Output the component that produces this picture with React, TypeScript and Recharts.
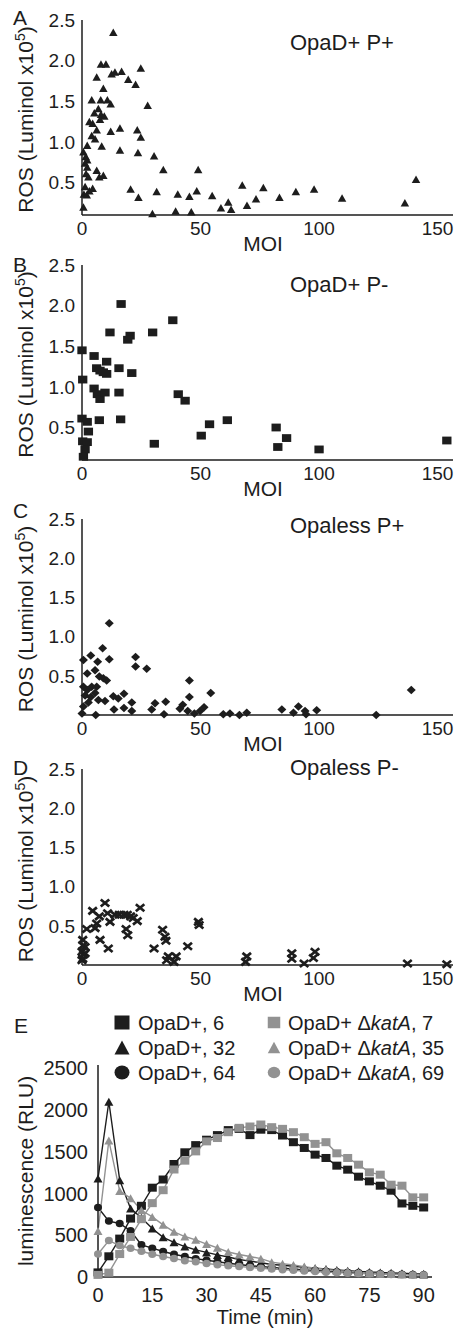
import React from "react";
import { ScatterChart, Scatter, LineChart, Line, XAxis, YAxis } from "recharts";

const FONT = "'Liberation Sans', Arial, Helvetica, sans-serif";
const BLACK = "#1d1d1d";
const GREY = "#929292";

// A: OpaD+ P+
const A_MOI = [13.2, 8.0, 10.1, 6.2, 12.5, 13.9, 16.7, 24.8, 19.5, 22.6, 9.0, 4.1, 7.9, 10.7, 12.1, 27.7, 6.9, 5.2, 8.0, 9.4, 3.1, 4.5, 7.6, 6.2, 12.1, 16.0, 23.3, 24.8, 4.1, 5.5, 2.2, 8.3, 16.0, 23.6, 30.4, 0.6, 1.6, 2.2, 1.3, 2.2, 1.7, 2.7, 6.2, 7.3, 9.0, 34.3, 49.0, 1.3, 3.1, 4.5, 0.8, 2.0, 20.5, 23.8, 31.5, 40.4, 45.3, 48.4, 54.9, 58.6, 61.7, 0.6, 29.7, 39.5, 46.1, 62.9, 67.6, 69.6, 73.4, 76.5, 83.3, 90.2, 97.9, 109.7, 136.2, 140.9];
const A_ROS = [2.35, 1.96, 1.96, 1.80, 1.84, 1.86, 1.87, 1.91, 1.77, 1.71, 1.66, 1.52, 1.52, 1.52, 1.47, 1.45, 1.41, 1.36, 1.34, 1.32, 1.25, 1.23, 1.28, 1.15, 1.13, 1.17, 1.15, 1.06, 1.08, 1.04, 0.96, 0.95, 0.90, 0.87, 0.83, 0.88, 0.82, 0.78, 0.74, 0.69, 0.61, 0.57, 0.65, 0.57, 0.59, 0.66, 0.66, 0.45, 0.40, 0.43, 0.36, 0.35, 0.42, 0.32, 0.39, 0.36, 0.33, 0.40, 0.34, 0.19, 0.26, 0.20, 0.12, 0.15, 0.14, 0.17, 0.47, 0.22, 0.30, 0.44, 0.32, 0.39, 0.42, 0.31, 0.25, 0.54];

// B: OpaD+ P-
const B_MOI = [16.5, 38.3, 11.8, 29.8, 20.3, 19.3, 0.0, 5.1, 10.4, 6.2, 7.6, 9.0, 15.6, 10.4, 21.0, 0.3, 5.1, 6.5, 7.6, 9.7, 15.6, 40.6, 43.5, 0.0, 2.2, 7.3, 16.3, 2.7, 0.3, 2.2, 1.3, 0.6, 30.5, 50.3, 53.8, 61.3, 81.9, 82.6, 86.3, 100.0, 153.9];
const B_ROS = [2.02, 1.82, 1.67, 1.67, 1.63, 1.58, 1.45, 1.38, 1.31, 1.23, 1.20, 1.18, 1.23, 1.16, 1.17, 1.09, 0.98, 0.91, 0.85, 0.93, 0.93, 0.91, 0.83, 0.61, 0.57, 0.59, 0.60, 0.45, 0.33, 0.32, 0.23, 0.14, 0.30, 0.40, 0.54, 0.59, 0.50, 0.26, 0.37, 0.23, 0.34];

// C: Opaless P+
const C_MOI = [11.5, 8.7, 3.7, 6.6, 0.6, 11.5, 22.6, 22.6, 27.3, 2.2, 5.5, 7.3, 9.0, 10.4, 45.3, 0.6, 2.2, 4.1, 6.2, 1.3, 3.7, 5.5, 13.2, 15.3, 17.7, 54.3, 45.3, 9.7, 6.9, 2.7, 0.6, 13.5, 17.7, 21.0, 21.0, 30.8, 35.3, 29.4, 41.3, 42.5, 44.6, 47.4, 49.8, 51.5, 0.0, 5.8, 34.6, 59.6, 62.4, 66.4, 69.5, 84.3, 89.2, 91.3, 94.1, 94.5, 99.0, 124.1, 138.9];
const C_ROS = [1.17, 0.85, 0.76, 0.68, 0.70, 0.71, 0.74, 0.62, 0.59, 0.53, 0.57, 0.49, 0.47, 0.44, 0.44, 0.36, 0.32, 0.36, 0.36, 0.25, 0.23, 0.28, 0.24, 0.21, 0.27, 0.28, 0.23, 0.18, 0.19, 0.16, 0.11, 0.07, 0.09, 0.16, 0.05, 0.15, 0.17, 0.07, 0.08, 0.13, 0.05, 0.02, 0.05, 0.10, 0.02, 0.00, 0.01, 0.01, 0.02, 0.00, 0.03, 0.07, 0.03, 0.11, 0.05, 0.01, 0.06, 0.00, 0.32];

// D: Opaless P-
const D_MOI = [9.7, 4.5, 10.8, 13.9, 15.7, 17.7, 19.1, 20.5, 21.6, 24.5, 23.3, 7.3, 6.2, 5.5, 11.8, 2.0, 18.6, 19.3, 34.0, 35.0, 35.4, 49.1, 49.4, 7.6, 11.1, 0.3, 1.3, 0.0, 1.3, 30.4, 44.6, 36.4, 39.7, 0.0, 0.6, 0.5, 0.3, 35.7, 38.8, 69.0, 69.5, 88.5, 88.5, 93.7, 97.6, 98.3, 137.3, 153.9];
const D_ROS = [0.79, 0.69, 0.66, 0.64, 0.64, 0.64, 0.64, 0.62, 0.60, 0.73, 0.56, 0.62, 0.53, 0.47, 0.55, 0.46, 0.46, 0.38, 0.45, 0.36, 0.31, 0.55, 0.51, 0.32, 0.21, 0.32, 0.23, 0.17, 0.15, 0.21, 0.24, 0.11, 0.11, 0.06, 0.13, 0.25, 0.08, 0.06, 0.04, 0.04, 0.11, 0.15, 0.08, 0.02, 0.09, 0.17, 0.02, 0.01];

const MOI_TICKS = [0, 50, 100, 150];
const ROS_TICKS = [0.5, 1.0, 1.5, 2.0, 2.5];

// E: luminescence over time
const TIME = [0, 3, 6, 9, 12, 15, 18, 21, 24, 27, 30, 33, 36, 39, 42, 45, 48, 51, 54, 57, 60, 63, 66, 69, 72, 75, 78, 81, 84, 87, 90];
const OPAD_6 = [55, 248, 460, 700, 853, 1070, 1168, 1354, 1494, 1580, 1645, 1700, 1760, 1775, 1700, 1765, 1760, 1695, 1615, 1546, 1466, 1426, 1334, 1286, 1202, 1146, 1094, 1034, 881, 853, 833];
const OPAD_32 = [1180, 2100, 1160, 820, 710, 580, 475, 415, 365, 325, 295, 265, 240, 210, 190, 170, 150, 140, 128, 115, 105, 95, 85, 75, 68, 60, 55, 50, 45, 40, 38];
const OPAD_64 = [833, 670, 641, 553, 385, 345, 305, 272, 245, 220, 200, 182, 165, 150, 135, 125, 115, 105, 95, 85, 78, 70, 62, 55, 50, 45, 40, 36, 33, 30, 28];
const KATA_7 = [25, 52, 275, 480, 693, 885, 1040, 1288, 1394, 1505, 1625, 1665, 1735, 1787, 1803, 1827, 1795, 1775, 1735, 1675, 1595, 1615, 1482, 1426, 1346, 1254, 1226, 1106, 1094, 954, 954];
const KATA_35 = [550, 1635, 1030, 945, 800, 720, 625, 541, 485, 445, 395, 350, 300, 270, 245, 220, 178, 158, 145, 125, 105, 90, 75, 70, 55, 45, 40, 35, 30, 28, 25];
const KATA_69 = [276, 437, 377, 343, 308, 272, 246, 222, 196, 182, 162, 148, 135, 125, 115, 105, 96, 88, 80, 72, 65, 58, 52, 46, 42, 38, 34, 30, 28, 25, 24];

const TIME_TICKS = [0, 15, 30, 45, 60, 75, 90];
const RLU_TICKS = [0, 500, 1000, 1500, 2000, 2500];

type Kind = "triangle" | "square" | "diamond" | "cross" | "circle";

function Mark({ kind, cx, cy, w, h, color }: { kind: Kind; cx: number; cy: number; w: number; h: number; color: string }) {
  if (cx == null || cy == null || isNaN(cx) || isNaN(cy)) return <g />;
  const hw = w / 2;
  const hh = h / 2;
  if (kind === "triangle")
    return <polygon points={`${cx},${cy - hh} ${cx + hw},${cy + hh} ${cx - hw},${cy + hh}`} fill={color} />;
  if (kind === "square") return <rect x={cx - hw} y={cy - hh} width={w} height={h} fill={color} />;
  if (kind === "diamond")
    return <polygon points={`${cx},${cy - hh} ${cx + hw},${cy} ${cx},${cy + hh} ${cx - hw},${cy}`} fill={color} />;
  if (kind === "cross")
    return (
      <g stroke={color} strokeWidth={2.7}>
        <line x1={cx - hw} y1={cy - hh} x2={cx + hw} y2={cy + hh} />
        <line x1={cx - hw} y1={cy + hh} x2={cx + hw} y2={cy - hh} />
      </g>
    );
  return <ellipse cx={cx} cy={cy} rx={hw} ry={hh} fill={color} />;
}

interface Panel {
  key: string;
  moi: number[];
  ros: number[];
  kind: Kind;
  w: number;
  h: number;
  plotTop: number;
  plotBottom: number;
  yMin: number;
}

const PANELS: Panel[] = [
  { key: "A", moi: A_MOI, ros: A_ROS, kind: "triangle", w: 8.5, h: 7.5, plotTop: 20, plotBottom: 215, yMin: 0.1 },
  { key: "B", moi: B_MOI, ros: B_ROS, kind: "square", w: 9.3, h: 7.8, plotTop: 265, plotBottom: 460, yMin: 0.1 },
  { key: "C", moi: C_MOI, ros: C_ROS, kind: "diamond", w: 9, h: 8.5, plotTop: 519, plotBottom: 715, yMin: 0 },
  { key: "D", moi: D_MOI, ros: D_ROS, kind: "cross", w: 8.5, h: 7, plotTop: 769, plotBottom: 965, yMin: 0 },
];

const axisLine = { stroke: BLACK, strokeWidth: 1.5 };

function MoiPanel({ p }: { p: Panel }) {
  const rows = p.moi.map((x, i) => ({ x, y: p.ros[i] }));
  const top = p.plotTop - 10;
  const height = p.plotBottom - p.plotTop + 10 + 30;
  return (
    <div style={{ position: "absolute", left: 0, top }}>
      <ScatterChart width={457} height={height} margin={{ top: 10, right: 4, bottom: 0, left: 37 }}>
        <XAxis
          type="number"
          dataKey="x"
          domain={[0, 156.5]}
          ticks={MOI_TICKS}
          interval={0}
          height={30}
          tickLine={false}
          tickSize={6}
          tickMargin={1}
          axisLine={axisLine}
          tick={{ fontSize: 19, fill: BLACK, fontFamily: FONT }}
        />
        <YAxis
          type="number"
          dataKey="y"
          domain={[p.yMin, 2.5]}
          ticks={ROS_TICKS}
          interval={0}
          width={45}
          tickLine={false}
          tickSize={6}
          tickMargin={1}
          axisLine={axisLine}
          tickFormatter={(v: number) => v.toFixed(1)}
          tick={{ fontSize: 19, fill: BLACK, fontFamily: FONT }}
        />
        <Scatter
          data={rows}
          isAnimationActive={false}
          shape={(s: any) => <Mark kind={p.kind} cx={s.cx} cy={s.cy} w={p.w} h={p.h} color={BLACK} />}
        />
      </ScatterChart>
    </div>
  );
}

interface Series {
  key: string;
  label: string;
  kata: boolean;
  values: number[];
  kind: Kind;
  color: string;
}

const SERIES: Series[] = [
  { key: "o6", label: "6", kata: false, values: OPAD_6, kind: "square", color: BLACK },
  { key: "o32", label: "32", kata: false, values: OPAD_32, kind: "triangle", color: BLACK },
  { key: "o64", label: "64", kata: false, values: OPAD_64, kind: "circle", color: BLACK },
  { key: "k7", label: "7", kata: true, values: KATA_7, kind: "square", color: GREY },
  { key: "k35", label: "35", kata: true, values: KATA_35, kind: "triangle", color: GREY },
  { key: "k69", label: "69", kata: true, values: KATA_69, kind: "circle", color: GREY },
];

const E_ROWS = TIME.map((t, i) => {
  const row: Record<string, number> = { t };
  SERIES.forEach((s) => (row[s.key] = s.values[i]));
  return row;
});

function TimePanel() {
  return (
    <div style={{ position: "absolute", left: 0, top: 1055 }}>
      <LineChart width={457} height={262} data={E_ROWS} margin={{ top: 10, right: 25, bottom: 0, left: 43 }}>
        <XAxis
          type="number"
          dataKey="t"
          domain={[0, 92.3]}
          ticks={TIME_TICKS}
          interval={0}
          height={40}
          tickLine={false}
          tickSize={6}
          tickMargin={5}
          axisLine={axisLine}
          tick={{ fontSize: 20, fill: BLACK, fontFamily: FONT }}
        />
        <YAxis
          type="number"
          domain={[0, 2540]}
          ticks={RLU_TICKS}
          interval={0}
          width={55}
          tickLine={false}
          tickSize={6}
          tickMargin={4}
          axisLine={axisLine}
          tick={{ fontSize: 20, fill: BLACK, fontFamily: FONT }}
        />
        {SERIES.map((s) => (
          <Line
            key={s.key}
            type="linear"
            dataKey={s.key}
            stroke={s.color}
            strokeWidth={1.4}
            isAnimationActive={false}
            activeDot={false}
            dot={(d: any) => (
              <Mark
                key={`${s.key}-${d.index}`}
                kind={s.kind}
                cx={d.cx}
                cy={d.cy}
                w={s.kind === "circle" ? 8 : 9}
                h={s.kind === "circle" ? 7.5 : 8}
                color={s.color}
              />
            )}
          />
        ))}
      </LineChart>
    </div>
  );
}

const TITLES = ["OpaD+ P+", "OpaD+ P-", "Opaless P+", "Opaless P-"];
const TITLE_BASE = [50, 292, 533, 775];
const LETTER_BASE = [25, 272, 518, 775];

function Overlay() {
  const txt = { fontFamily: FONT, fill: BLACK };
  return (
    <svg width={457} height={1330} style={{ position: "absolute", left: 0, top: 0, pointerEvents: "none" }}>
      {PANELS.map((p, i) => (
        <g key={p.key}>
          <text x={13} y={LETTER_BASE[i]} fontSize={21} {...txt}>{p.key}</text>
          <text x={290} y={TITLE_BASE[i]} fontSize={22} {...txt}>{TITLES[i]}</text>
          <text x={263} y={p.plotBottom + 36} fontSize={21} textAnchor="middle" {...txt}>MOI</text>
          <text
            transform={`translate(33,${(p.plotTop + p.plotBottom) / 2 + 2}) rotate(-90)`}
            fontSize={21}
            textAnchor="middle"
            {...txt}
          >
            ROS (Luminol x10<tspan dy={-8} fontSize={14}>5</tspan><tspan dy={8}>)</tspan>
          </text>
        </g>
      ))}
      <text x={14} y={1033} fontSize={21} {...txt}>E</text>
      <text transform="translate(33,1171) rotate(-90)" fontSize={21} textAnchor="middle" {...txt}>
        luminescence (RLU)
      </text>
      <text x={265} y={1324} fontSize={20.5} textAnchor="middle" {...txt}>Time (min)</text>
      {SERIES.map((s, i) => {
        const col = s.kata ? 1 : 0;
        const row = i % 3;
        const base = [1030, 1055, 1080][row];
        const mx = col ? 274 : 122;
        const tx = col ? 288 : 138;
        const size = col ? 12.5 : 15;
        return (
          <g key={s.key}>
            <Mark kind={s.kind} cx={mx} cy={base - 7.5} w={size} h={size - 1} color={s.color} />
            <text x={tx} y={base} fontSize={20} {...txt}>
              {s.kata ? (
                <>
                  OpaD+ Δ<tspan fontStyle="italic">katA</tspan>, {s.label}
                </>
              ) : (
                `OpaD+, ${s.label}`
              )}
            </text>
          </g>
        );
      })}
    </svg>
  );
}

export default function App() {
  return (
    <div style={{ position: "absolute", left: 0, top: 0, width: 457, height: 1330, background: "#fff", fontFamily: FONT }}>
      {PANELS.map((p) => (
        <MoiPanel key={p.key} p={p} />
      ))}
      <TimePanel />
      <Overlay />
    </div>
  );
}
